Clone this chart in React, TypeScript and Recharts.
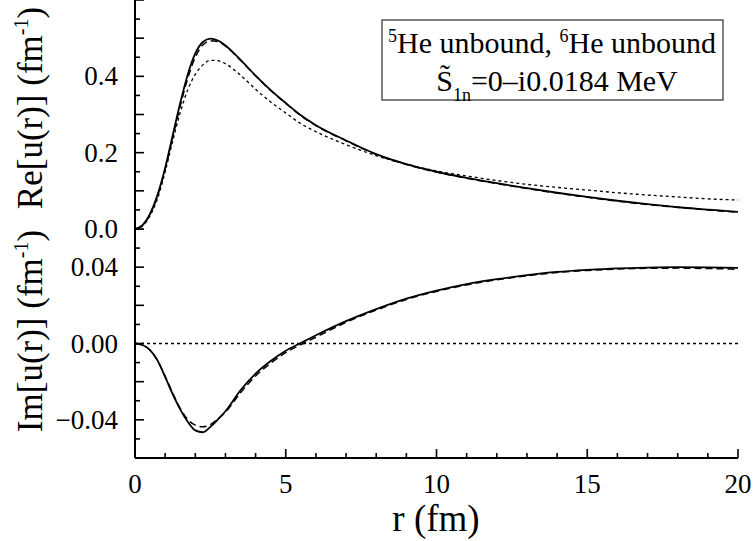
import React from "react";
import { LineChart, Line, XAxis, YAxis } from "recharts";

// radius grid (fm), shared by both panels
const rValues = [0, 0.25, 0.5, 0.75, 1, 1.25, 1.5, 1.75, 2, 2.25, 2.5, 2.75, 3, 3.5, 4, 4.5, 5, 5.5, 6, 7, 8, 9, 10, 11, 12, 13, 14, 15, 16, 17, 18, 19, 20];

// Re[u(r)]
const reSolid = [0, 0.01, 0.04, 0.09, 0.16, 0.245, 0.33, 0.405, 0.46, 0.49, 0.499, 0.494, 0.481, 0.443, 0.402, 0.364, 0.33, 0.298, 0.272, 0.232, 0.196, 0.17, 0.15, 0.134, 0.12, 0.107, 0.095, 0.084, 0.074, 0.065, 0.057, 0.051, 0.045];
const reDashed = [0, 0.01, 0.039, 0.088, 0.157, 0.24, 0.322, 0.395, 0.45, 0.482, 0.493, 0.491, 0.479, 0.442, 0.401, 0.363, 0.329, 0.297, 0.271, 0.231, 0.195, 0.169, 0.149, 0.133, 0.119, 0.106, 0.094, 0.083, 0.073, 0.064, 0.057, 0.05, 0.044];
const reDotted = [0, 0.008, 0.035, 0.08, 0.15, 0.23, 0.305, 0.365, 0.405, 0.43, 0.442, 0.441, 0.433, 0.403, 0.366, 0.333, 0.304, 0.276, 0.255, 0.221, 0.192, 0.17, 0.152, 0.139, 0.127, 0.117, 0.109, 0.102, 0.095, 0.089, 0.084, 0.079, 0.076];

// Im[u(r)]
const imSolid = [0, -0.0008, -0.0035, -0.009, -0.0175, -0.0265, -0.0345, -0.041, -0.0455, -0.0465, -0.0437, -0.0398, -0.0355, -0.0245, -0.0158, -0.0092, -0.0038, 0.0003, 0.0043, 0.0117, 0.018, 0.0235, 0.0277, 0.0311, 0.0337, 0.0358, 0.0375, 0.0386, 0.0394, 0.0398, 0.04, 0.0399, 0.0396];
const imDashed = [0, -0.0008, -0.0035, -0.009, -0.0172, -0.026, -0.034, -0.0398, -0.0428, -0.0436, -0.0425, -0.0395, -0.036, -0.0258, -0.017, -0.0103, -0.0048, -0.0006, 0.0033, 0.0111, 0.0175, 0.0231, 0.0273, 0.0307, 0.0334, 0.0355, 0.0372, 0.0383, 0.039, 0.0394, 0.0395, 0.0393, 0.0389];
const imDotted = [0, 0, 0, 0, 0, 0, 0, 0, 0, 0, 0, 0, 0, 0, 0, 0, 0, 0, 0, 0, 0, 0, 0, 0, 0, 0, 0, 0, 0, 0, 0, 0, 0];

// ticks
const xTicks = [0, 1, 2, 3, 4, 5, 6, 7, 8, 9, 10, 11, 12, 13, 14, 15, 16, 17, 18, 19, 20];
const xMajor = [0, 5, 10, 15, 20];
const xLabelValues = [0, 5, 10, 15, 20];
const xLabelTexts = ["0", "5", "10", "15", "20"];

const reTicks = [0, 0.05, 0.1, 0.15, 0.2, 0.25, 0.3, 0.35, 0.4, 0.45, 0.5, 0.55, 0.6];
const reMajor = [0, 0.1, 0.2, 0.3, 0.4, 0.5, 0.6];
const reLabelValues = [0, 0.2, 0.4];
const reLabelTexts = ["0.0", "0.2", "0.4"];

const imTicks = [-0.06, -0.05, -0.04, -0.03, -0.02, -0.01, 0, 0.01, 0.02, 0.03, 0.04, 0.05, 0.06];
const imMajor = [-0.06, -0.04, -0.02, 0, 0.02, 0.04, 0.06];
const imLabelValues = [-0.04, 0, 0.04];
const imLabelTexts = ["\u22120.04", "0.00", "0.04"];

const FONT = "'Liberation Serif', 'DejaVu Serif', serif";
const serif = { fontFamily: FONT };

const reData = rValues.map((r, i) => ({ r, solid: reSolid[i], dashed: reDashed[i], dotted: reDotted[i] }));
const imData = rValues.map((r, i) => ({ r, solid: imSolid[i], dashed: imDashed[i], dotted: imDotted[i] }));

const near = (list: number[], v: number) => list.findIndex((t) => Math.abs(t - v) < 1e-9);

function makeTick(side: "left" | "right" | "top" | "bottom", major: number[], labelValues: number[] = [], labelTexts: string[] = []) {
  return (props: any) => {
    const { x, y, payload } = props;
    const v = payload.value;
    const len = near(major, v) >= 0 ? 9 : 5;
    let x2 = x;
    let y2 = y;
    if (side === "left") x2 = x + len;
    if (side === "right") x2 = x - len;
    if (side === "top") y2 = y + len;
    if (side === "bottom") y2 = y - len;
    const li = near(labelValues, v);
    return (
      <g>
        <line x1={x} y1={y} x2={x2} y2={y2} stroke="#000" strokeWidth={1.6} />
        {li >= 0 && side === "left" && (
          <text x={x - 17} y={y + 9} textAnchor="end" style={serif} fontSize={27} fill="#000">
            {labelTexts[li]}
          </text>
        )}
        {li >= 0 && side === "bottom" && (
          <text x={x} y={y + 35} textAnchor="middle" style={serif} fontSize={27} fill="#000">
            {labelTexts[li]}
          </text>
        )}
      </g>
    );
  };
}

const axisCommon = {
  type: "number" as const,
  allowDataOverflow: true,
  interval: 0 as const,
  tickLine: false,
  tickSize: 0,
  tickMargin: 0,
  axisLine: { stroke: "#000", strokeWidth: 2 },
};

function Panel({ data, domain, ticks, major, labelValues, labelTexts, height, bottomHeight, marginBottom, withXLabels }: any) {
  return (
    <LineChart width={753} height={height} data={data} margin={{ top: 0, right: 15, bottom: marginBottom, left: 0 }}>
      <XAxis {...axisCommon} xAxisId="b" dataKey="r" domain={[0, 20]} ticks={xTicks} height={bottomHeight}
        tick={withXLabels ? makeTick("bottom", xMajor, xLabelValues, xLabelTexts) : makeTick("bottom", xMajor)} />
      <XAxis {...axisCommon} xAxisId="t" orientation="top" dataKey="r" domain={[0, 20]} ticks={xTicks} height={0}
        tick={makeTick("top", xMajor)} />
      <YAxis {...axisCommon} yAxisId="l" domain={domain} ticks={ticks} width={135}
        tick={makeTick("left", major, labelValues, labelTexts)} />
      <YAxis {...axisCommon} yAxisId="r" orientation="right" domain={domain} ticks={ticks} width={0}
        tick={makeTick("right", major)} />
      <Line xAxisId="b" yAxisId="l" dataKey="dotted" type="monotone" stroke="#000" strokeWidth={1.3} strokeDasharray="3 3" dot={false} isAnimationActive={false} />
      <Line xAxisId="b" yAxisId="l" dataKey="dashed" type="monotone" stroke="#000" strokeWidth={1.5} strokeDasharray="7 4" dot={false} isAnimationActive={false} />
      <Line xAxisId="b" yAxisId="l" dataKey="solid" type="monotone" stroke="#000" strokeWidth={1.8} dot={false} isAnimationActive={false} />
    </LineChart>
  );
}

export default function App() {
  return (
    <div style={{ position: "absolute", left: 0, top: 0, width: 753, height: 541, background: "#fff", overflow: "hidden" }}>
      <div style={{ position: "absolute", left: 0, top: 0 }}>
        <Panel data={reData} domain={[0, 0.6]} ticks={reTicks} major={reMajor} labelValues={reLabelValues} labelTexts={reLabelTexts}
          height={250} bottomHeight={0} marginBottom={21} withXLabels={false} />
      </div>
      <div style={{ position: "absolute", left: 0, top: 229 }}>
        <Panel data={imData} domain={[-0.06, 0.06]} ticks={imTicks} major={imMajor} labelValues={imLabelValues} labelTexts={imLabelTexts}
          height={312} bottomHeight={83} marginBottom={0} withXLabels={true} />
      </div>
      <svg width={753} height={541} style={{ position: "absolute", left: 0, top: 0, pointerEvents: "none", fontFamily: FONT }} fill="#000">
        <text transform="translate(42,108) rotate(-90)" textAnchor="middle" fontSize={35} style={serif}>
          Re[u(r)] (fm<tspan fontSize={20} dy={-14}>-1</tspan><tspan dy={14}>)</tspan>
        </text>
        <text transform="translate(42,331) rotate(-90)" textAnchor="middle" fontSize={35} style={serif}>
          Im[u(r)] (fm<tspan fontSize={20} dy={-14}>-1</tspan><tspan dy={14}>)</tspan>
        </text>
        <text x={436} y={531} textAnchor="middle" fontSize={37} style={serif}>r (fm)</text>
        <rect x={382} y={20} width={341} height={80} fill="#fff" stroke="#555" strokeWidth={1.5} />
        <text x={552} y={53} textAnchor="middle" fontSize={30} style={serif}>
          <tspan fontSize={18} dy={-11}>5</tspan><tspan dy={11}>He unbound, </tspan><tspan fontSize={18} dy={-11}>6</tspan><tspan dy={11}>He unbound</tspan>
        </text>
        <text x={557} y={91} textAnchor="middle" fontSize={30} style={serif}>
          {"S\u0303"}<tspan fontSize={18} dy={10}>1n</tspan><tspan dy={-10}>=0–i0.0184 MeV</tspan>
        </text>
      </svg>
    </div>
  );
}
